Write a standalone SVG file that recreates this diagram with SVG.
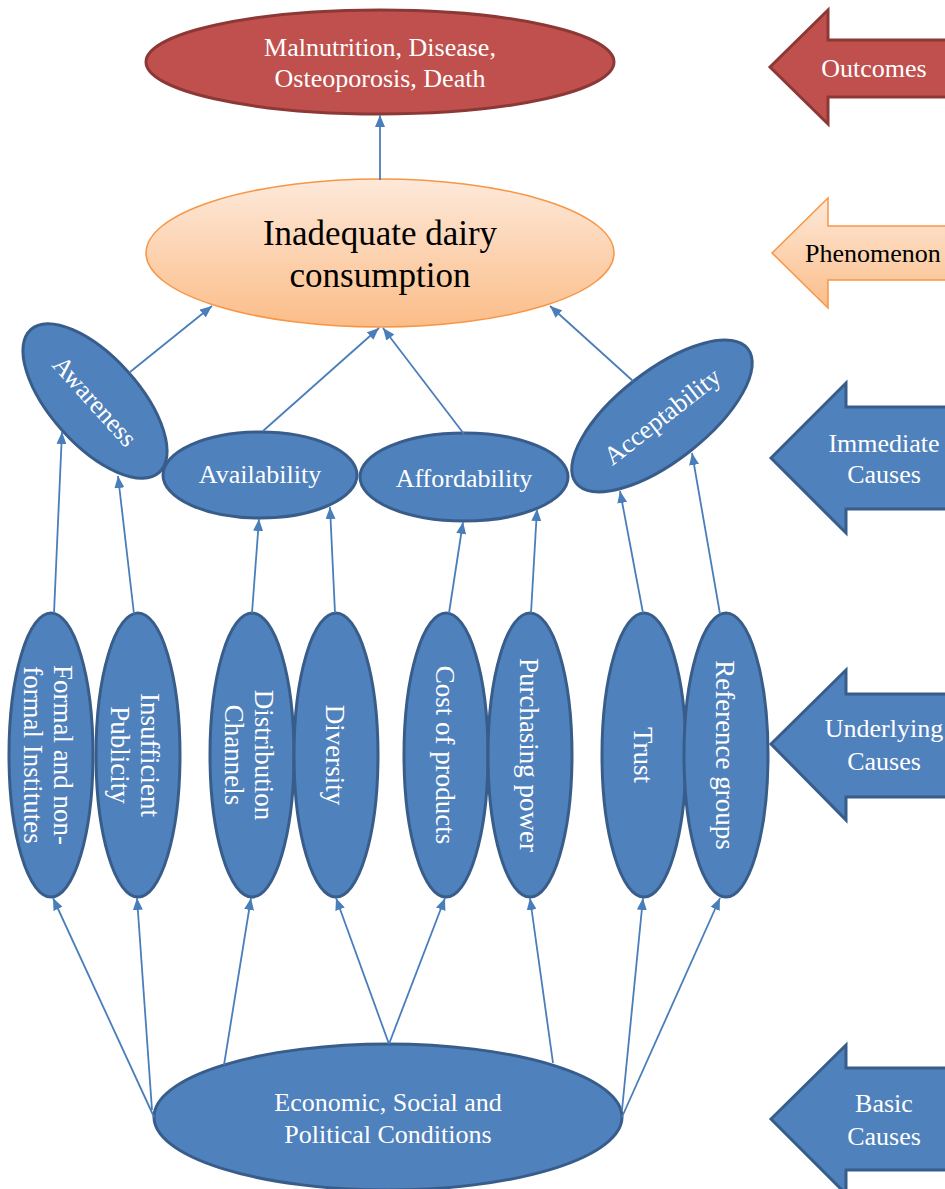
<svg xmlns="http://www.w3.org/2000/svg" width="945" height="1189" viewBox="0 0 945 1189">
<defs>
<style>
.blue{fill:#4F81BD;stroke:#385D8A;stroke-width:3}
.red{fill:#C0504D;stroke:#8C3836;stroke-width:3}
.org{fill:url(#og);stroke:#F79646;stroke-width:1.5}
text{font-family:'Liberation Serif','Times New Roman',Times,'DejaVu Serif',serif}
.t{font-size:26px;fill:#fff;text-anchor:middle}
.tv{font-size:27px;fill:#fff;text-anchor:middle}
.tk{fill:#000;text-anchor:middle}
.c{stroke:#4A7EBB;stroke-width:1.8;fill:none;marker-end:url(#ah)}
</style>
<linearGradient id="og" x1="0" y1="0" x2="0" y2="1">
<stop offset="0" stop-color="#FDE9DA"/>
<stop offset="1" stop-color="#FBBD88"/>
</linearGradient>
<marker id="ah" markerUnits="userSpaceOnUse" markerWidth="12" markerHeight="10" refX="12" refY="5" orient="auto">
<path d="M0,0 L12,5 L0,10 z" fill="#4A7EBB"/>
</marker>
</defs>

<g id="side-outcomes">
<polygon class="red" points="770,67 828,10 828,40 950,40 950,97 828,97 828,124"/>
<text class="t" x="874" y="77">Outcomes</text>
</g>
<g id="side-phenomenon">
<polygon class="org" points="772,253 828,198 828,226 950,226 950,280 828,280 828,308"/>
<text class="tk" x="873" y="262" font-size="26">Phenomenon</text>
</g>
<g id="side-immediate">
<polygon class="blue" points="771,458 846,383 846,407 950,407 950,509 846,509 846,533"/>
<text class="t" x="884" y="452">Immediate</text>
<text class="t" x="884" y="483">Causes</text>
</g>
<g id="side-underlying">
<polygon class="blue" points="771,744 846,670 846,694 950,694 950,797 846,797 846,820"/>
<text class="t" x="884" y="737">Underlying</text>
<text class="t" x="884" y="770">Causes</text>
</g>
<g id="side-basic">
<polygon class="blue" points="771,1119 846,1045 846,1068 950,1068 950,1170 846,1170 846,1194"/>
<text class="t" x="884" y="1112">Basic</text>
<text class="t" x="884" y="1145">Causes</text>
</g>

<g id="outcome">
<ellipse class="red" cx="380" cy="62" rx="234" ry="52"/>
<text class="t" x="380" y="56">Malnutrition, Disease,</text>
<text class="t" x="380" y="87">Osteoporosis, Death</text>
</g>
<g id="phenomenon">
<ellipse class="org" cx="380" cy="253" rx="234" ry="74"/>
<text class="tk" x="380" y="245" font-size="35">Inadequate dairy</text>
<text class="tk" x="380" y="287" font-size="35">consumption</text>
</g>

<g id="awareness" transform="translate(95,401) rotate(48)">
<ellipse class="blue" cx="0" cy="0" rx="96" ry="44"/>
<text class="t" x="0" y="9">Awareness</text>
</g>
<g id="availability">
<ellipse class="blue" cx="260" cy="475" rx="97" ry="43"/>
<text class="t" x="260" y="483">Availability</text>
</g>
<g id="affordability">
<ellipse class="blue" cx="464" cy="477" rx="104" ry="44"/>
<text class="t" x="464" y="487">Affordability</text>
</g>
<g id="acceptability" transform="translate(662,416) rotate(-38)">
<ellipse class="blue" cx="0" cy="0" rx="109" ry="45"/>
<text class="t" x="0" y="9">Acceptability</text>
</g>

<g id="formal" transform="translate(51,755)">
<ellipse class="blue" cx="0" cy="0" rx="42" ry="142"/>
<text class="tv" transform="rotate(90)"><tspan x="0" y="-3">Formal and non-</tspan><tspan x="0" y="27">formal Institutes</tspan></text>
</g>
<g id="publicity" transform="translate(138,755)">
<ellipse class="blue" cx="0" cy="0" rx="42" ry="142"/>
<text class="tv" transform="rotate(90)"><tspan x="0" y="-3">Insufficient</tspan><tspan x="0" y="27">Publicity</tspan></text>
</g>
<g id="distribution" transform="translate(252,755)">
<ellipse class="blue" cx="0" cy="0" rx="42" ry="142"/>
<text class="tv" transform="rotate(90)"><tspan x="0" y="-3">Distribution</tspan><tspan x="0" y="27">Channels</tspan></text>
</g>
<g id="diversity" transform="translate(336,755)">
<ellipse class="blue" cx="0" cy="0" rx="42" ry="142"/>
<text class="tv" transform="rotate(90)" x="0" y="10">Diversity</text>
</g>
<g id="cost" transform="translate(446,755)">
<ellipse class="blue" cx="0" cy="0" rx="42" ry="142"/>
<text class="tv" transform="rotate(90)" x="0" y="10">Cost of products</text>
</g>
<g id="purchasing" transform="translate(530,755)">
<ellipse class="blue" cx="0" cy="0" rx="42" ry="142"/>
<text class="tv" transform="rotate(90)" x="0" y="10">Purchasing power</text>
</g>
<g id="trust" transform="translate(644,755)">
<ellipse class="blue" cx="0" cy="0" rx="42" ry="142"/>
<text class="tv" transform="rotate(90)" x="0" y="10">Trust</text>
</g>
<g id="reference" transform="translate(726,755)">
<ellipse class="blue" cx="0" cy="0" rx="42" ry="142"/>
<text class="tv" transform="rotate(90)" x="0" y="10">Reference groups</text>
</g>

<g id="basic">
<ellipse class="blue" cx="388" cy="1117" rx="234" ry="73"/>
<text class="t" x="388" y="1111">Economic, Social and</text>
<text class="t" x="388" y="1143">Political Conditions</text>
</g>

<g id="connectors">
<line class="c" x1="380" y1="180" x2="380" y2="115"/>
<line class="c" x1="130" y1="372" x2="212" y2="306"/>
<line class="c" x1="263" y1="431" x2="379" y2="328"/>
<line class="c" x1="464" y1="434" x2="383" y2="328"/>
<line class="c" x1="633" y1="381" x2="550" y2="306"/>
<line class="c" x1="54" y1="613" x2="62" y2="432"/>
<line class="c" x1="134" y1="614" x2="118" y2="476"/>
<line class="c" x1="252" y1="613" x2="259" y2="519"/>
<line class="c" x1="335" y1="613" x2="330" y2="507"/>
<line class="c" x1="449" y1="613" x2="463" y2="522"/>
<line class="c" x1="531" y1="613" x2="537" y2="509"/>
<line class="c" x1="643" y1="613" x2="620" y2="491"/>
<line class="c" x1="720" y1="614" x2="692" y2="453"/>
<line class="c" x1="154" y1="1117" x2="53" y2="898"/>
<line class="c" x1="152" y1="1110" x2="137" y2="898"/>
<line class="c" x1="224" y1="1065" x2="251" y2="898"/>
<line class="c" x1="389" y1="1044" x2="336" y2="898"/>
<line class="c" x1="389" y1="1044" x2="445" y2="898"/>
<line class="c" x1="553" y1="1063" x2="530" y2="898"/>
<line class="c" x1="622" y1="1110" x2="643" y2="898"/>
<line class="c" x1="622" y1="1117" x2="720" y2="898"/>
</g>
</svg>
